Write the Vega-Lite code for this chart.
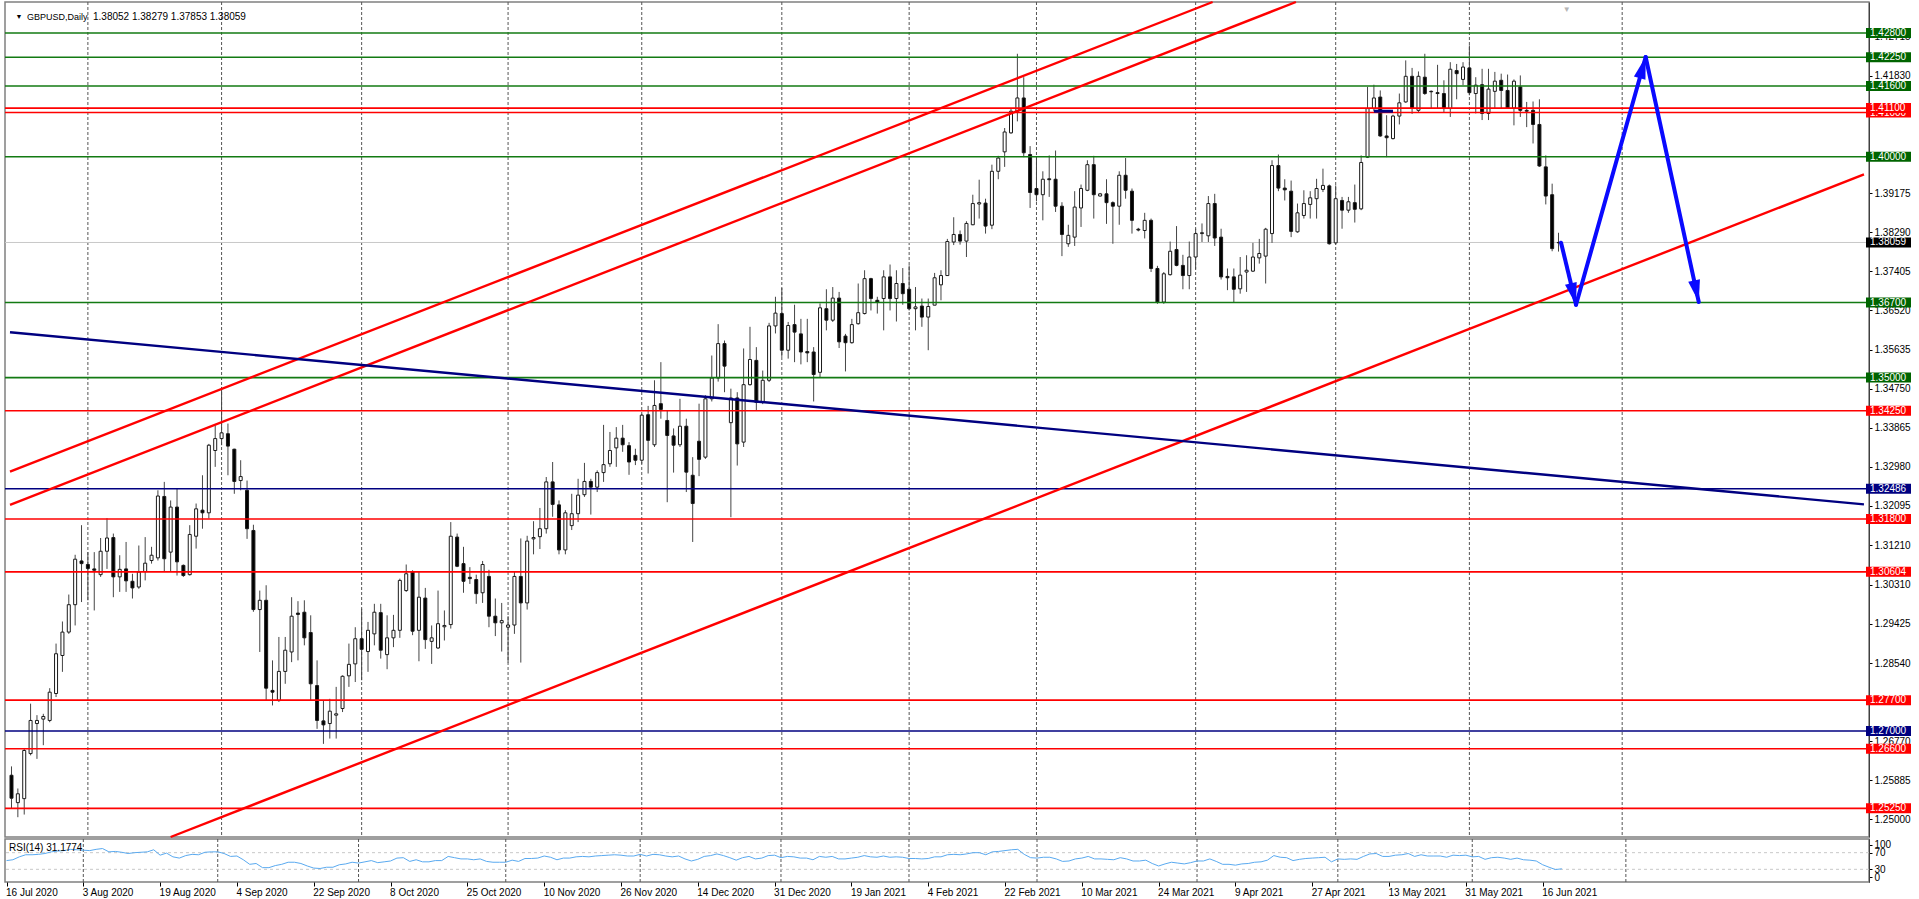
{
"$schema": "https://vega.github.io/schema/vega-lite/v6.json",
"padding": {"left": 3, "top": 0, "right": 0, "bottom": 0},
"background": "white",
"spacing": 2,
"bounds": "flush",
"config": {
  "view": {"stroke": "#808080", "strokeWidth": 1.5},
  "axis": {"labelFont": "Liberation Sans", "labelFontSize": 10, "labelColor": "#000000", "tickColor": "#000000", "domainColor": "#404040", "grid": false},
  "text": {"font": "Liberation Sans"}
},
"datasets": {
"candles": [
{"i":0,"o":1.2600,"h":1.2620,"l":1.2525,"c":1.2548},
{"i":1,"o":1.2538,"h":1.2570,"l":1.2505,"c":1.2558},
{"i":2,"o":1.2547,"h":1.2660,"l":1.2511,"c":1.2656},
{"i":3,"o":1.2649,"h":1.2762,"l":1.2645,"c":1.2724},
{"i":4,"o":1.2717,"h":1.2736,"l":1.2637,"c":1.2724},
{"i":5,"o":1.2727,"h":1.2739,"l":1.2668,"c":1.2733},
{"i":6,"o":1.2724,"h":1.2797,"l":1.2720,"c":1.2788},
{"i":7,"o":1.2785,"h":1.2898,"l":1.2777,"c":1.2875},
{"i":8,"o":1.2871,"h":1.2948,"l":1.2834,"c":1.2924},
{"i":9,"o":1.2924,"h":1.3009,"l":1.2920,"c":1.2986},
{"i":10,"o":1.2986,"h":1.3099,"l":1.2939,"c":1.3089},
{"i":11,"o":1.3085,"h":1.3166,"l":1.2992,"c":1.3079},
{"i":12,"o":1.3077,"h":1.3105,"l":1.2996,"c":1.3068},
{"i":13,"o":1.3067,"h":1.3105,"l":1.2973,"c":1.3064},
{"i":14,"o":1.3054,"h":1.3137,"l":1.3049,"c":1.3107},
{"i":15,"o":1.3107,"h":1.3182,"l":1.3067,"c":1.3137},
{"i":16,"o":1.3138,"h":1.3147,"l":1.3003,"c":1.3049},
{"i":17,"o":1.3049,"h":1.3098,"l":1.3015,"c":1.3066},
{"i":18,"o":1.3067,"h":1.3128,"l":1.3015,"c":1.3040},
{"i":19,"o":1.3039,"h":1.3056,"l":1.3000,"c":1.3024},
{"i":20,"o":1.3026,"h":1.3120,"l":1.3022,"c":1.3060},
{"i":21,"o":1.3061,"h":1.3139,"l":1.3041,"c":1.3080},
{"i":22,"o":1.3086,"h":1.3117,"l":1.3079,"c":1.3098},
{"i":23,"o":1.3092,"h":1.3245,"l":1.3086,"c":1.3232},
{"i":24,"o":1.3231,"h":1.3264,"l":1.3060,"c":1.3090},
{"i":25,"o":1.3105,"h":1.3222,"l":1.3061,"c":1.3207},
{"i":26,"o":1.3207,"h":1.3250,"l":1.3052,"c":1.3083},
{"i":27,"o":1.3075,"h":1.3077,"l":1.3049,"c":1.3052},
{"i":28,"o":1.3054,"h":1.3166,"l":1.3052,"c":1.3145},
{"i":29,"o":1.3141,"h":1.3215,"l":1.3113,"c":1.3203},
{"i":30,"o":1.3200,"h":1.3279,"l":1.3158,"c":1.3194},
{"i":31,"o":1.3194,"h":1.3350,"l":1.3181,"c":1.3347},
{"i":32,"o":1.3335,"h":1.3392,"l":1.3298,"c":1.3362},
{"i":33,"o":1.3362,"h":1.3479,"l":1.3347,"c":1.3375},
{"i":34,"o":1.3373,"h":1.3396,"l":1.3279,"c":1.3345},
{"i":35,"o":1.3338,"h":1.3339,"l":1.3237,"c":1.3265},
{"i":36,"o":1.3267,"h":1.3313,"l":1.3245,"c":1.3276},
{"i":37,"o":1.3245,"h":1.3267,"l":1.3135,"c":1.3158},
{"i":38,"o":1.3154,"h":1.3167,"l":1.2970,"c":1.2975},
{"i":39,"o":1.2975,"h":1.3018,"l":1.2879,"c":1.2996},
{"i":40,"o":1.2996,"h":1.3030,"l":1.2769,"c":1.2797},
{"i":41,"o":1.2792,"h":1.2860,"l":1.2758,"c":1.2788},
{"i":42,"o":1.2769,"h":1.2913,"l":1.2766,"c":1.2835},
{"i":43,"o":1.2835,"h":1.2913,"l":1.2807,"c":1.2883},
{"i":44,"o":1.2879,"h":1.3003,"l":1.2856,"c":1.2960},
{"i":45,"o":1.2967,"h":1.2994,"l":1.2860,"c":1.2964},
{"i":46,"o":1.2969,"h":1.2996,"l":1.2894,"c":1.2911},
{"i":47,"o":1.2923,"h":1.2962,"l":1.2769,"c":1.2807},
{"i":48,"o":1.2803,"h":1.2860,"l":1.2705,"c":1.2724},
{"i":49,"o":1.2723,"h":1.2769,"l":1.2671,"c":1.2714},
{"i":50,"o":1.2717,"h":1.2773,"l":1.2683,"c":1.2745},
{"i":51,"o":1.2736,"h":1.2800,"l":1.2683,"c":1.2739},
{"i":52,"o":1.2751,"h":1.2826,"l":1.2743,"c":1.2824},
{"i":53,"o":1.2825,"h":1.2898,"l":1.2800,"c":1.2851},
{"i":54,"o":1.2852,"h":1.2935,"l":1.2811,"c":1.2909},
{"i":55,"o":1.2909,"h":1.2977,"l":1.2815,"c":1.2885},
{"i":56,"o":1.2880,"h":1.2947,"l":1.2834,"c":1.2928},
{"i":57,"o":1.2920,"h":1.2988,"l":1.2894,"c":1.2969},
{"i":58,"o":1.2968,"h":1.2988,"l":1.2864,"c":1.2883},
{"i":59,"o":1.2873,"h":1.2962,"l":1.2840,"c":1.2911},
{"i":60,"o":1.2911,"h":1.2963,"l":1.2890,"c":1.2928},
{"i":61,"o":1.2928,"h":1.3045,"l":1.2911,"c":1.3041},
{"i":62,"o":1.3018,"h":1.3077,"l":1.3015,"c":1.3056},
{"i":63,"o":1.3060,"h":1.3064,"l":1.2917,"c":1.2926},
{"i":64,"o":1.2928,"h":1.3061,"l":1.2858,"c":1.3003},
{"i":65,"o":1.3001,"h":1.3024,"l":1.2886,"c":1.2907},
{"i":66,"o":1.2903,"h":1.2939,"l":1.2852,"c":1.2911},
{"i":67,"o":1.2888,"h":1.3018,"l":1.2886,"c":1.2943},
{"i":68,"o":1.2936,"h":1.2973,"l":1.2905,"c":1.2939},
{"i":69,"o":1.2941,"h":1.3173,"l":1.2932,"c":1.3141},
{"i":70,"o":1.3139,"h":1.3147,"l":1.3071,"c":1.3073},
{"i":71,"o":1.3079,"h":1.3117,"l":1.3013,"c":1.3039},
{"i":72,"o":1.3048,"h":1.3071,"l":1.3033,"c":1.3045},
{"i":73,"o":1.3043,"h":1.3054,"l":1.2988,"c":1.3011},
{"i":74,"o":1.3013,"h":1.3085,"l":1.2990,"c":1.3077},
{"i":75,"o":1.3050,"h":1.3065,"l":1.2935,"c":1.2960},
{"i":76,"o":1.2960,"h":1.3000,"l":1.2915,"c":1.2945},
{"i":77,"o":1.2945,"h":1.2990,"l":1.2880,"c":1.2950},
{"i":78,"o":1.2935,"h":1.2960,"l":1.2855,"c":1.2940},
{"i":79,"o":1.2940,"h":1.3060,"l":1.2920,"c":1.3050},
{"i":80,"o":1.3050,"h":1.3136,"l":1.2855,"c":1.2990},
{"i":81,"o":1.2990,"h":1.3142,"l":1.2975,"c":1.3130},
{"i":82,"o":1.3135,"h":1.3175,"l":1.3100,"c":1.3138},
{"i":83,"o":1.3140,"h":1.3205,"l":1.3112,"c":1.3158},
{"i":84,"o":1.3158,"h":1.3275,"l":1.3147,"c":1.3264},
{"i":85,"o":1.3264,"h":1.3309,"l":1.3185,"c":1.3213},
{"i":86,"o":1.3212,"h":1.3222,"l":1.3100,"c":1.3110},
{"i":87,"o":1.3110,"h":1.3200,"l":1.3100,"c":1.3194},
{"i":88,"o":1.3165,"h":1.3237,"l":1.3155,"c":1.3192},
{"i":89,"o":1.3192,"h":1.3271,"l":1.3173,"c":1.3234},
{"i":90,"o":1.3235,"h":1.3307,"l":1.3230,"c":1.3265},
{"i":91,"o":1.3265,"h":1.3271,"l":1.3190,"c":1.3252},
{"i":92,"o":1.3252,"h":1.3290,"l":1.3241,"c":1.3285},
{"i":93,"o":1.3285,"h":1.3393,"l":1.3264,"c":1.3303},
{"i":94,"o":1.3305,"h":1.3377,"l":1.3298,"c":1.3335},
{"i":95,"o":1.3341,"h":1.3388,"l":1.3298,"c":1.3363},
{"i":96,"o":1.3363,"h":1.3393,"l":1.3332,"c":1.3348},
{"i":97,"o":1.3346,"h":1.3354,"l":1.3280,"c":1.3309},
{"i":98,"o":1.3324,"h":1.3339,"l":1.3302,"c":1.3313},
{"i":99,"o":1.3313,"h":1.3418,"l":1.3305,"c":1.3415},
{"i":100,"o":1.3416,"h":1.3436,"l":1.3283,"c":1.3358},
{"i":101,"o":1.3348,"h":1.3494,"l":1.3343,"c":1.3437},
{"i":102,"o":1.3441,"h":1.3535,"l":1.3407,"c":1.3428},
{"i":103,"o":1.3403,"h":1.3426,"l":1.3218,"c":1.3369},
{"i":104,"o":1.3368,"h":1.3385,"l":1.3285,"c":1.3347},
{"i":105,"o":1.3348,"h":1.3452,"l":1.3343,"c":1.3390},
{"i":106,"o":1.3390,"h":1.3407,"l":1.3241,"c":1.3286},
{"i":107,"o":1.3279,"h":1.3320,"l":1.3128,"c":1.3215},
{"i":108,"o":1.3356,"h":1.3441,"l":1.3277,"c":1.3315},
{"i":109,"o":1.3320,"h":1.3460,"l":1.3316,"c":1.3452},
{"i":110,"o":1.3452,"h":1.3550,"l":1.3446,"c":1.3499},
{"i":111,"o":1.3499,"h":1.3621,"l":1.3491,"c":1.3577},
{"i":112,"o":1.3577,"h":1.3584,"l":1.3467,"c":1.3526},
{"i":113,"o":1.3398,"h":1.3475,"l":1.3184,"c":1.3454},
{"i":114,"o":1.3454,"h":1.3467,"l":1.3301,"c":1.3350},
{"i":115,"o":1.3354,"h":1.3566,"l":1.3343,"c":1.3484},
{"i":116,"o":1.3484,"h":1.3615,"l":1.3482,"c":1.3541},
{"i":117,"o":1.3539,"h":1.3569,"l":1.3426,"c":1.3444},
{"i":118,"o":1.3444,"h":1.3516,"l":1.3440,"c":1.3494},
{"i":119,"o":1.3494,"h":1.3624,"l":1.3490,"c":1.3617},
{"i":120,"o":1.3617,"h":1.3683,"l":1.3600,"c":1.3646},
{"i":121,"o":1.3645,"h":1.3703,"l":1.3547,"c":1.3562},
{"i":122,"o":1.3562,"h":1.3626,"l":1.3543,"c":1.3618},
{"i":123,"o":1.3620,"h":1.3665,"l":1.3535,"c":1.3603},
{"i":124,"o":1.3599,"h":1.3633,"l":1.3530,"c":1.3558},
{"i":125,"o":1.3559,"h":1.3633,"l":1.3535,"c":1.3556},
{"i":126,"o":1.3558,"h":1.3569,"l":1.3446,"c":1.3507},
{"i":127,"o":1.3512,"h":1.3668,"l":1.3501,"c":1.3658},
{"i":128,"o":1.3656,"h":1.3700,"l":1.3607,"c":1.3630},
{"i":129,"o":1.3630,"h":1.3705,"l":1.3626,"c":1.3680},
{"i":130,"o":1.3680,"h":1.3694,"l":1.3567,"c":1.3581},
{"i":131,"o":1.3594,"h":1.3599,"l":1.3514,"c":1.3579},
{"i":132,"o":1.3579,"h":1.3633,"l":1.3577,"c":1.3620},
{"i":133,"o":1.3622,"h":1.3713,"l":1.3620,"c":1.3647},
{"i":134,"o":1.3645,"h":1.3743,"l":1.3643,"c":1.3724},
{"i":135,"o":1.3724,"h":1.3726,"l":1.3652,"c":1.3679},
{"i":136,"o":1.3675,"h":1.3683,"l":1.3645,"c":1.3671},
{"i":137,"o":1.3679,"h":1.3743,"l":1.3607,"c":1.3728},
{"i":138,"o":1.3728,"h":1.3756,"l":1.3652,"c":1.3679},
{"i":139,"o":1.3679,"h":1.3743,"l":1.3627,"c":1.3713},
{"i":140,"o":1.3713,"h":1.3748,"l":1.3665,"c":1.3690},
{"i":141,"o":1.3700,"h":1.3754,"l":1.3652,"c":1.3656},
{"i":142,"o":1.3656,"h":1.3705,"l":1.3607,"c":1.3660},
{"i":143,"o":1.3662,"h":1.3679,"l":1.3615,"c":1.3637},
{"i":144,"o":1.3637,"h":1.3679,"l":1.3562,"c":1.3661},
{"i":145,"o":1.3664,"h":1.3737,"l":1.3664,"c":1.3726},
{"i":146,"o":1.3710,"h":1.3743,"l":1.3675,"c":1.3731},
{"i":147,"o":1.3731,"h":1.3814,"l":1.3731,"c":1.3808},
{"i":148,"o":1.3807,"h":1.3863,"l":1.3800,"c":1.3824},
{"i":149,"o":1.3824,"h":1.3833,"l":1.3801,"c":1.3809},
{"i":150,"o":1.3809,"h":1.3854,"l":1.3773,"c":1.3849},
{"i":151,"o":1.3846,"h":1.3914,"l":1.3845,"c":1.3894},
{"i":152,"o":1.3893,"h":1.3948,"l":1.3860,"c":1.3896},
{"i":153,"o":1.3895,"h":1.3905,"l":1.3826,"c":1.3843},
{"i":154,"o":1.3845,"h":1.3982,"l":1.3836,"c":1.3967},
{"i":155,"o":1.3967,"h":1.4002,"l":1.3949,"c":1.3997},
{"i":156,"o":1.4011,"h":1.4065,"l":1.3977,"c":1.4056},
{"i":157,"o":1.4054,"h":1.4109,"l":1.4052,"c":1.4103},
{"i":158,"o":1.4103,"h":1.4233,"l":1.4080,"c":1.4133},
{"i":159,"o":1.4133,"h":1.4180,"l":1.3999,"c":1.4009},
{"i":160,"o":1.4005,"h":1.4024,"l":1.3884,"c":1.3919},
{"i":161,"o":1.3928,"h":1.3999,"l":1.3899,"c":1.3914},
{"i":162,"o":1.3914,"h":1.3967,"l":1.3856,"c":1.3949},
{"i":163,"o":1.3950,"h":1.4003,"l":1.3909,"c":1.3948},
{"i":164,"o":1.3949,"h":1.4014,"l":1.3875,"c":1.3888},
{"i":165,"o":1.3888,"h":1.3897,"l":1.3775,"c":1.3824},
{"i":166,"o":1.3803,"h":1.3846,"l":1.3796,"c":1.3822},
{"i":167,"o":1.3818,"h":1.3922,"l":1.3798,"c":1.3886},
{"i":168,"o":1.3884,"h":1.3937,"l":1.3841,"c":1.3928},
{"i":169,"o":1.3924,"h":1.3992,"l":1.3922,"c":1.3982},
{"i":170,"o":1.3982,"h":1.4002,"l":1.3860,"c":1.3914},
{"i":171,"o":1.3911,"h":1.3918,"l":1.3910,"c":1.3916},
{"i":172,"o":1.3916,"h":1.3949,"l":1.3848,"c":1.3896},
{"i":173,"o":1.3896,"h":1.3899,"l":1.3803,"c":1.3888},
{"i":174,"o":1.3888,"h":1.3967,"l":1.3846,"c":1.3958},
{"i":175,"o":1.3958,"h":1.3997,"l":1.3905,"c":1.3924},
{"i":176,"o":1.3922,"h":1.3928,"l":1.3826,"c":1.3856},
{"i":177,"o":1.3836,"h":1.3839,"l":1.3831,"c":1.3834},
{"i":178,"o":1.3833,"h":1.3873,"l":1.3815,"c":1.3856},
{"i":179,"o":1.3856,"h":1.3860,"l":1.3739,"c":1.3747},
{"i":180,"o":1.3747,"h":1.3753,"l":1.3667,"c":1.3671},
{"i":181,"o":1.3671,"h":1.3739,"l":1.3667,"c":1.3735},
{"i":182,"o":1.3733,"h":1.3808,"l":1.3731,"c":1.3786},
{"i":183,"o":1.3790,"h":1.3843,"l":1.3752,"c":1.3754},
{"i":184,"o":1.3754,"h":1.3778,"l":1.3700,"c":1.3731},
{"i":185,"o":1.3731,"h":1.3808,"l":1.3700,"c":1.3773},
{"i":186,"o":1.3773,"h":1.3837,"l":1.3745,"c":1.3826},
{"i":187,"o":1.3826,"h":1.3849,"l":1.3807,"c":1.3828},
{"i":188,"o":1.3821,"h":1.3911,"l":1.3807,"c":1.3894},
{"i":189,"o":1.3894,"h":1.3916,"l":1.3798,"c":1.3816},
{"i":190,"o":1.3818,"h":1.3837,"l":1.3722,"c":1.3728},
{"i":191,"o":1.3729,"h":1.3747,"l":1.3698,"c":1.3726},
{"i":192,"o":1.3728,"h":1.3747,"l":1.3671,"c":1.3700},
{"i":193,"o":1.3701,"h":1.3773,"l":1.3690,"c":1.3732},
{"i":194,"o":1.3739,"h":1.3777,"l":1.3694,"c":1.3743},
{"i":195,"o":1.3741,"h":1.3805,"l":1.3739,"c":1.3773},
{"i":196,"o":1.3771,"h":1.3814,"l":1.3758,"c":1.3781},
{"i":197,"o":1.3775,"h":1.3839,"l":1.3713,"c":1.3836},
{"i":198,"o":1.3826,"h":1.3992,"l":1.3805,"c":1.3980},
{"i":199,"o":1.3980,"h":1.4005,"l":1.3922,"c":1.3929},
{"i":200,"o":1.3929,"h":1.3949,"l":1.3901,"c":1.3925},
{"i":201,"o":1.3922,"h":1.3946,"l":1.3818,"c":1.3831},
{"i":202,"o":1.3830,"h":1.3894,"l":1.3828,"c":1.3873},
{"i":203,"o":1.3867,"h":1.3924,"l":1.3860,"c":1.3894},
{"i":204,"o":1.3892,"h":1.3922,"l":1.3860,"c":1.3907},
{"i":205,"o":1.3905,"h":1.3950,"l":1.3860,"c":1.3928},
{"i":206,"o":1.3926,"h":1.3973,"l":1.3920,"c":1.3935},
{"i":207,"o":1.3934,"h":1.3937,"l":1.3801,"c":1.3803},
{"i":208,"o":1.3805,"h":1.3935,"l":1.3801,"c":1.3905},
{"i":209,"o":1.3901,"h":1.3909,"l":1.3837,"c":1.3879},
{"i":210,"o":1.3879,"h":1.3909,"l":1.3873,"c":1.3898},
{"i":211,"o":1.3896,"h":1.3937,"l":1.3851,"c":1.3881},
{"i":212,"o":1.3882,"h":1.4003,"l":1.3879,"c":1.3987},
{"i":213,"o":1.3999,"h":1.4158,"l":1.3997,"c":1.4109},
{"i":214,"o":1.4109,"h":1.4163,"l":1.4103,"c":1.4133},
{"i":215,"o":1.4135,"h":1.4150,"l":1.4045,"c":1.4047},
{"i":216,"o":1.4047,"h":1.4094,"l":1.3999,"c":1.4043},
{"i":217,"o":1.4041,"h":1.4095,"l":1.4039,"c":1.4092},
{"i":218,"o":1.4092,"h":1.4143,"l":1.4073,"c":1.4122},
{"i":219,"o":1.4124,"h":1.4218,"l":1.4122,"c":1.4182},
{"i":220,"o":1.4182,"h":1.4201,"l":1.4097,"c":1.4110},
{"i":221,"o":1.4105,"h":1.4193,"l":1.4101,"c":1.4182},
{"i":222,"o":1.4180,"h":1.4233,"l":1.4140,"c":1.4143},
{"i":223,"o":1.4148,"h":1.4150,"l":1.4110,"c":1.4147},
{"i":224,"o":1.4145,"h":1.4208,"l":1.4110,"c":1.4143},
{"i":225,"o":1.4143,"h":1.4173,"l":1.4100,"c":1.4109},
{"i":226,"o":1.4109,"h":1.4214,"l":1.4090,"c":1.4198},
{"i":227,"o":1.4195,"h":1.4210,"l":1.4130,"c":1.4188},
{"i":228,"o":1.4175,"h":1.4214,"l":1.4162,"c":1.4203},
{"i":229,"o":1.4201,"h":1.4252,"l":1.4139,"c":1.4145},
{"i":230,"o":1.4143,"h":1.4180,"l":1.4098,"c":1.4162},
{"i":231,"o":1.4163,"h":1.4199,"l":1.4083,"c":1.4098},
{"i":232,"o":1.4098,"h":1.4199,"l":1.4083,"c":1.4153},
{"i":233,"o":1.4148,"h":1.4192,"l":1.4110,"c":1.4171},
{"i":234,"o":1.4173,"h":1.4188,"l":1.4109,"c":1.4150},
{"i":235,"o":1.4150,"h":1.4186,"l":1.4109,"c":1.4110},
{"i":236,"o":1.4110,"h":1.4175,"l":1.4071,"c":1.4171},
{"i":237,"o":1.4158,"h":1.4184,"l":1.4090,"c":1.4105},
{"i":238,"o":1.4105,"h":1.4124,"l":1.4067,"c":1.4103},
{"i":239,"o":1.4105,"h":1.4125,"l":1.4030,"c":1.4073},
{"i":240,"o":1.4073,"h":1.4130,"l":1.3977,"c":1.3979},
{"i":241,"o":1.3977,"h":1.4003,"l":1.3892,"c":1.3911},
{"i":242,"o":1.3914,"h":1.3939,"l":1.3786,"c":1.3792},
{"i":243,"o":1.38052,"h":1.38279,"l":1.37853,"c":1.38059}
],
"rsi": [
{"i":0,"r":51},{"i":1,"r":53},{"i":2,"r":60},{"i":3,"r":65},{"i":4,"r":65},{"i":5,"r":66},{"i":6,"r":68},{"i":7,"r":72},{"i":8,"r":74},{"i":9,"r":75},
{"i":10,"r":78},{"i":11,"r":77},{"i":12,"r":76},{"i":13,"r":75},{"i":14,"r":78},{"i":15,"r":80},{"i":16,"r":72},{"i":17,"r":73},{"i":18,"r":71},{"i":19,"r":68},
{"i":20,"r":70},{"i":21,"r":71},{"i":22,"r":72},{"i":23,"r":77},{"i":24,"r":64},{"i":25,"r":69},{"i":26,"r":60},{"i":27,"r":57},{"i":28,"r":63},{"i":29,"r":66},
{"i":30,"r":65},{"i":31,"r":71},{"i":32,"r":72},{"i":33,"r":72},{"i":34,"r":68},{"i":35,"r":61},{"i":36,"r":62},{"i":37,"r":53},{"i":38,"r":42},{"i":39,"r":44},
{"i":40,"r":34},{"i":41,"r":34},{"i":42,"r":39},{"i":43,"r":42},{"i":44,"r":47},{"i":45,"r":47},{"i":46,"r":44},{"i":47,"r":38},{"i":48,"r":33},{"i":49,"r":32},
{"i":50,"r":35},{"i":51,"r":35},{"i":52,"r":41},{"i":53,"r":43},{"i":54,"r":47},{"i":55,"r":45},{"i":56,"r":48},{"i":57,"r":51},{"i":58,"r":46},{"i":59,"r":48},
{"i":60,"r":50},{"i":61,"r":57},{"i":62,"r":58},{"i":63,"r":49},{"i":64,"r":53},{"i":65,"r":48},{"i":66,"r":48},{"i":67,"r":51},{"i":68,"r":51},{"i":69,"r":61},
{"i":70,"r":58},{"i":71,"r":55},{"i":72,"r":55},{"i":73,"r":53},{"i":74,"r":55},{"i":75,"r":49},{"i":76,"r":47},{"i":77,"r":47},{"i":78,"r":47},{"i":79,"r":52},
{"i":80,"r":49},{"i":81,"r":56},{"i":82,"r":56},{"i":83,"r":57},{"i":84,"r":62},{"i":85,"r":59},{"i":86,"r":53},{"i":87,"r":57},{"i":88,"r":57},{"i":89,"r":60},
{"i":90,"r":61},{"i":91,"r":60},{"i":92,"r":62},{"i":93,"r":63},{"i":94,"r":64},{"i":95,"r":65},{"i":96,"r":64},{"i":97,"r":62},{"i":98,"r":62},{"i":99,"r":66},
{"i":100,"r":62},{"i":101,"r":66},{"i":102,"r":65},{"i":103,"r":62},{"i":104,"r":60},{"i":105,"r":62},{"i":106,"r":55},{"i":107,"r":50},{"i":108,"r":54},{"i":109,"r":61},
{"i":110,"r":63},{"i":111,"r":67},{"i":112,"r":63},{"i":113,"r":58},{"i":114,"r":52},{"i":115,"r":58},{"i":116,"r":61},{"i":117,"r":55},{"i":118,"r":57},{"i":119,"r":63},
{"i":120,"r":64},{"i":121,"r":58},{"i":122,"r":61},{"i":123,"r":60},{"i":124,"r":57},{"i":125,"r":57},{"i":126,"r":53},{"i":127,"r":61},{"i":128,"r":59},{"i":129,"r":61},
{"i":130,"r":55},{"i":131,"r":55},{"i":132,"r":57},{"i":133,"r":59},{"i":134,"r":63},{"i":135,"r":60},{"i":136,"r":59},{"i":137,"r":62},{"i":138,"r":59},{"i":139,"r":60},
{"i":140,"r":59},{"i":141,"r":56},{"i":142,"r":56},{"i":143,"r":55},{"i":144,"r":56},{"i":145,"r":60},{"i":146,"r":60},{"i":147,"r":65},{"i":148,"r":66},{"i":149,"r":65},
{"i":150,"r":67},{"i":151,"r":70},{"i":152,"r":70},{"i":153,"r":65},{"i":154,"r":72},{"i":155,"r":73},{"i":156,"r":75},{"i":157,"r":77},{"i":158,"r":78},{"i":159,"r":66},
{"i":160,"r":58},{"i":161,"r":57},{"i":162,"r":59},{"i":163,"r":59},{"i":164,"r":55},{"i":165,"r":49},{"i":166,"r":50},{"i":167,"r":55},{"i":168,"r":57},{"i":169,"r":61},
{"i":170,"r":55},{"i":171,"r":55},{"i":172,"r":54},{"i":173,"r":53},{"i":174,"r":58},{"i":175,"r":55},{"i":176,"r":50},{"i":177,"r":50},{"i":178,"r":52},{"i":179,"r":44},
{"i":180,"r":38},{"i":181,"r":43},{"i":182,"r":47},{"i":183,"r":45},{"i":184,"r":43},{"i":185,"r":46},{"i":186,"r":50},{"i":187,"r":50},{"i":188,"r":55},{"i":189,"r":49},
{"i":190,"r":42},{"i":191,"r":42},{"i":192,"r":40},{"i":193,"r":43},{"i":194,"r":44},{"i":195,"r":47},{"i":196,"r":48},{"i":197,"r":52},{"i":198,"r":63},{"i":199,"r":59},
{"i":200,"r":58},{"i":201,"r":51},{"i":202,"r":54},{"i":203,"r":56},{"i":204,"r":57},{"i":205,"r":58},{"i":206,"r":59},{"i":207,"r":48},{"i":208,"r":55},{"i":209,"r":54},
{"i":210,"r":55},{"i":211,"r":54},{"i":212,"r":61},{"i":213,"r":67},{"i":214,"r":68},{"i":215,"r":61},{"i":216,"r":61},{"i":217,"r":64},{"i":218,"r":65},{"i":219,"r":68},
{"i":220,"r":61},{"i":221,"r":65},{"i":222,"r":62},{"i":223,"r":62},{"i":224,"r":62},{"i":225,"r":59},{"i":226,"r":64},{"i":227,"r":63},{"i":228,"r":64},{"i":229,"r":60},
{"i":230,"r":61},{"i":231,"r":54},{"i":232,"r":58},{"i":233,"r":59},{"i":234,"r":57},{"i":235,"r":54},{"i":236,"r":57},{"i":237,"r":53},{"i":238,"r":52},{"i":239,"r":50},
{"i":240,"r":41},{"i":241,"r":35},{"i":242,"r":29.5},{"i":243,"r":31.18}
],
"hlines": [
{"p":1.428,"kind":"green","label":"1.42800"},
{"p":1.4225,"kind":"green","label":"1.42250"},
{"p":1.416,"kind":"green","label":"1.41600"},
{"p":1.41,"kind":"red","label":"1.41000"},
{"p":1.411,"kind":"red","label":"1.41100"},
{"p":1.4,"kind":"green","label":"1.40000"},
{"p":1.38059,"kind":"bid","label":"1.38059"},
{"p":1.367,"kind":"green","label":"1.36700"},
{"p":1.35,"kind":"green","label":"1.35000"},
{"p":1.3425,"kind":"red","label":"1.34250"},
{"p":1.32486,"kind":"navy","label":"1.32486"},
{"p":1.318,"kind":"red","label":"1.31800"},
{"p":1.30604,"kind":"red","label":"1.30604"},
{"p":1.277,"kind":"red","label":"1.27700"},
{"p":1.27,"kind":"navy","label":"1.27000"},
{"p":1.266,"kind":"red","label":"1.26600"},
{"p":1.2525,"kind":"red","label":"1.25250"}
],
"grid": [{"i":12},{"i":33},{"i":55},{"i":78},{"i":99},{"i":121},{"i":141},{"i":161},{"i":186},{"i":208},{"i":229},{"i":253}],
"levels": [{"v":70},{"v":30}],
"trend": [
{"i1":-0.234,"p1":1.32874,"i2":188.67,"p2":1.43502,"kind":"red"},
{"i1":-0.234,"p1":1.32118,"i2":201.76,"p2":1.43502,"kind":"red"},
{"i1":25.0,"p1":1.24602,"i2":290.98,"p2":1.39598,"kind":"red"},
{"i1":-0.234,"p1":1.36026,"i2":290.98,"p2":1.32132,"kind":"navy"}
],
"seg": [{"i1":214.0,"i2":217.0,"p":1.4103}],
"arrows": [
{"i1":243.4,"p1":1.38054,"i2":245.75,"p2":1.3665},
{"i1":245.75,"p1":1.3665,"i2":256.69,"p2":1.42257},
{"i1":256.69,"p1":1.42257,"i2":265.03,"p2":1.36712}
],
"heads": [
{"i":245.75,"p":1.3665,"head":"a"},
{"i":256.69,"p":1.42257,"head":"b"},
{"i":265.03,"p":1.36712,"head":"c"}
]
},
"vconcat": [
{
"width": 1864,
"height": 835,
"resolve": {"scale": {"color": "independent"}},
"layer": [
{
"data": {"name": "grid"},
"mark": {"type": "rule", "color": "#555555", "strokeWidth": 1, "strokeDash": [3, 2]},
"encoding": {
"x": {"field": "i", "type": "quantitative", "scale": {"domain": [-0.234375, 290.984375], "nice": false, "zero": false}, "axis": null}
}
},
{
"data": {"name": "hlines"},
"transform": [{"filter": "datum.kind == 'bid'"}],
"mark": {"type": "rule", "color": "#c8c8c8", "strokeWidth": 1},
"encoding": {
"y": {"field": "p", "type": "quantitative", "scale": {"domain": [1.24602, 1.43502], "nice": false, "zero": false},
"axis": {"orient": "right", "title": null, "values": [1.25, 1.25885, 1.2677, 1.2854, 1.29425, 1.3031, 1.3121, 1.32095, 1.3298, 1.33865, 1.3475, 1.35635, 1.3652, 1.37405, 1.3829, 1.39175, 1.4183, 1.42715],
"labelExpr": "format(datum.value, '.5f')", "tickSize": 3, "labelPadding": 2, "labelOverlap": false, "labelBound": false, "labelFlush": false, "domainColor": "#404040", "grid": false}}
}
},
{
"data": {"name": "candles"},
"mark": {"type": "rule", "color": "#454545", "strokeWidth": 1},
"encoding": {
"x": {"field": "i", "type": "quantitative", "axis": null},
"y": {"field": "l", "type": "quantitative"},
"y2": {"field": "h"}
}
},
{
"data": {"name": "candles"},
"mark": {"type": "bar", "orient": "vertical", "width": 3, "stroke": "#1a1a1a", "strokeWidth": 1},
"encoding": {
"x": {"field": "i", "type": "quantitative", "axis": null},
"y": {"field": "o", "type": "quantitative"},
"y2": {"field": "c"},
"fill": {"condition": {"test": "datum.c >= datum.o", "value": "#ffffff"}, "value": "#000000"}
}
},
{
"data": {"name": "hlines"},
"transform": [{"filter": "datum.kind != 'bid'"}],
"mark": {"type": "rule", "strokeWidth": 1.6},
"encoding": {
"y": {"field": "p", "type": "quantitative"},
"color": {"field": "kind", "type": "nominal", "scale": {"domain": ["green", "red", "navy"], "range": ["#137a13", "#ff0000", "#000080"]}, "legend": null}
}
},
{
"data": {"name": "seg"},
"mark": {"type": "rule", "color": "#000080", "strokeWidth": 3},
"encoding": {
"x": {"field": "i1", "type": "quantitative", "axis": null},
"x2": {"field": "i2"},
"y": {"field": "p", "type": "quantitative"}
}
},
{
"data": {"name": "trend"},
"mark": {"type": "rule", "strokeWidth": 2.4},
"encoding": {
"x": {"field": "i1", "type": "quantitative", "axis": null},
"x2": {"field": "i2"},
"y": {"field": "p1", "type": "quantitative"},
"y2": {"field": "p2"},
"color": {"field": "kind", "type": "nominal", "scale": {"domain": ["red", "navy"], "range": ["#ff0000", "#000080"]}, "legend": null}
}
},
{
"data": {"name": "arrows"},
"mark": {"type": "rule", "color": "#0a0aff", "strokeWidth": 4, "strokeCap": "round"},
"encoding": {
"x": {"field": "i1", "type": "quantitative", "axis": null},
"x2": {"field": "i2"},
"y": {"field": "p1", "type": "quantitative"},
"y2": {"field": "p2"}
}
},
{
"data": {"name": "heads"},
"transform": [{"filter": "datum.head == 'a'"}],
"mark": {"type": "point", "shape": "M0,0L0.6,2.2L-0.6,2.2Z", "size": 400, "filled": true, "color": "#0a0aff", "opacity": 1, "strokeWidth": 0, "angle": 166.4},
"encoding": {
"x": {"field": "i", "type": "quantitative", "axis": null},
"y": {"field": "p", "type": "quantitative"}
}
},
{
"data": {"name": "heads"},
"transform": [{"filter": "datum.head == 'b'"}],
"mark": {"type": "point", "shape": "M0,0L0.6,2.2L-0.6,2.2Z", "size": 400, "filled": true, "color": "#0a0aff", "opacity": 1, "strokeWidth": 0, "angle": 15.8},
"encoding": {
"x": {"field": "i", "type": "quantitative", "axis": null},
"y": {"field": "p", "type": "quantitative"}
}
},
{
"data": {"name": "heads"},
"transform": [{"filter": "datum.head == 'c'"}],
"mark": {"type": "point", "shape": "M0,0L0.6,2.2L-0.6,2.2Z", "size": 400, "filled": true, "color": "#0a0aff", "opacity": 1, "strokeWidth": 0, "angle": 167.7},
"encoding": {
"x": {"field": "i", "type": "quantitative", "axis": null},
"y": {"field": "p", "type": "quantitative"}
}
},
{
"data": {"name": "hlines"},
"transform": [{"filter": "datum.label != '1.41100'"}],
"mark": {"type": "tick", "orient": "horizontal", "size": 45, "thickness": 10, "xOffset": 24.5, "opacity": 1},
"encoding": {
"x": {"datum": 290.984375, "type": "quantitative", "axis": null},
"y": {"field": "p", "type": "quantitative"},
"color": {"field": "kind", "type": "nominal", "scale": {"domain": ["green", "red", "navy", "bid"], "range": ["#006400", "#ff0000", "#000080", "#000000"]}, "legend": null}
}
},
{
"data": {"name": "hlines"},
"transform": [{"filter": "datum.label != '1.41100'"}],
"mark": {"type": "text", "align": "left", "baseline": "middle", "dx": 6, "fontSize": 10, "color": "#ffffff", "font": "Liberation Sans"},
"encoding": {
"x": {"datum": 290.984375, "type": "quantitative", "axis": null},
"y": {"field": "p", "type": "quantitative"},
"text": {"field": "label"}
}
},
{
"data": {"name": "hlines"},
"transform": [{"filter": "datum.label == '1.41100'"}],
"mark": {"type": "tick", "orient": "horizontal", "size": 45, "thickness": 10, "xOffset": 24.5, "opacity": 1, "color": "#ff0000"},
"encoding": {
"x": {"datum": 290.984375, "type": "quantitative", "axis": null},
"y": {"field": "p", "type": "quantitative"}
}
},
{
"data": {"name": "hlines"},
"transform": [{"filter": "datum.label == '1.41100'"}],
"mark": {"type": "text", "align": "left", "baseline": "middle", "dx": 6, "fontSize": 10, "color": "#ffffff", "font": "Liberation Sans"},
"encoding": {
"x": {"datum": 290.984375, "type": "quantitative", "axis": null},
"y": {"field": "p", "type": "quantitative"},
"text": {"field": "label"}
}
},
{
"data": {"values": [{"t": "▼"}]},
"mark": {"type": "text", "align": "center", "baseline": "middle", "dx": 9, "fontSize": 7, "color": "#000000"},
"encoding": {
"x": {"datum": -0.234375, "type": "quantitative", "axis": null},
"y": {"datum": 1.4316, "type": "quantitative"},
"text": {"field": "t"}
}
},
{
"data": {"values": [{"t": "GBPUSD,Daily"}]},
"mark": {"type": "text", "align": "left", "baseline": "middle", "dx": 17, "fontSize": 9, "color": "#000000", "font": "Liberation Sans"},
"encoding": {
"x": {"datum": -0.234375, "type": "quantitative", "axis": null},
"y": {"datum": 1.4316, "type": "quantitative"},
"text": {"field": "t"}
}
},
{
"data": {"values": [{"t": "1.38052 1.38279 1.37853 1.38059"}]},
"mark": {"type": "text", "align": "left", "baseline": "middle", "dx": 83, "fontSize": 10, "color": "#000000", "font": "Liberation Sans"},
"encoding": {
"x": {"datum": -0.234375, "type": "quantitative", "axis": null},
"y": {"datum": 1.4316, "type": "quantitative"},
"text": {"field": "t"}
}
},
{
"data": {"values": [{"t": "▼"}]},
"mark": {"type": "text", "align": "center", "baseline": "middle", "fontSize": 8, "color": "#b4b4b4"},
"encoding": {
"x": {"datum": 244.3, "type": "quantitative", "axis": null},
"y": {"datum": 1.4331, "type": "quantitative"},
"text": {"field": "t"}
}
}
]
},
{
"width": 1864,
"height": 43,
"resolve": {"axis": {"y": "independent"}},
"layer": [
{
"data": {"name": "grid"},
"mark": {"type": "rule", "color": "#555555", "strokeWidth": 1, "strokeDash": [3, 2]},
"encoding": {
"x": {"field": "i", "type": "quantitative", "scale": {"domain": [-0.234375, 290.984375], "nice": false, "zero": false}}
}
},
{
"data": {"name": "levels"},
"mark": {"type": "rule", "color": "#c8c8c8", "strokeWidth": 1, "strokeDash": [3, 3]},
"encoding": {
"y": {"field": "v", "type": "quantitative", "scale": {"domain": [-0.5, 102.9], "nice": false, "zero": false},
"axis": {"orient": "right", "title": null, "values": [30, 88.5],
"labelExpr": "datum.value > 50 ? '100' : '30'",
"tickSize": 3, "labelPadding": 2, "labelOverlap": false, "labelBound": false, "labelFlush": false, "labelBaseline": "middle", "domainColor": "#404040", "grid": false}}
}
},
{
"data": {"name": "rsi"},
"mark": {"type": "line", "color": "#5aaaf0", "strokeWidth": 1},
"encoding": {
"x": {"field": "i", "type": "quantitative",
"axis": {"orient": "bottom", "title": null, "values": [0,12,24,36,48,60,72,84,96,108,120,132,144,156,168,180,192,204,216,228,240],
"labelExpr": "['16 Jul 2020','3 Aug 2020','19 Aug 2020','4 Sep 2020','22 Sep 2020','8 Oct 2020','25 Oct 2020','10 Nov 2020','26 Nov 2020','14 Dec 2020','31 Dec 2020','19 Jan 2021','4 Feb 2021','22 Feb 2021','10 Mar 2021','24 Mar 2021','9 Apr 2021','27 Apr 2021','13 May 2021','31 May 2021','16 Jun 2021'][round(datum.value/12)]",
"labelAlign": "left", "labelOffset": -1, "tickSize": 4, "labelPadding": 1, "labelOverlap": false, "labelBound": false, "labelFlush": false, "domain": false, "grid": false}},
"y": {"field": "r", "type": "quantitative",
"axis": {"orient": "right", "title": null, "values": [11.5, 70],
"labelExpr": "datum.value > 50 ? '70' : '0'",
"tickSize": 3, "labelPadding": 2, "labelOverlap": false, "labelBound": false, "labelFlush": false, "labelBaseline": "middle", "domainColor": "#404040", "grid": false}}
}
},
{
"data": {"values": [{"t": "RSI(14) 31.1774"}]},
"mark": {"type": "text", "align": "left", "baseline": "middle", "dx": 4, "fontSize": 10, "color": "#000000", "font": "Liberation Sans"},
"encoding": {
"x": {"datum": -0.234375, "type": "quantitative"},
"y": {"datum": 81, "type": "quantitative", "axis": null},
"text": {"field": "t"}
}
}
]
}
]
}
